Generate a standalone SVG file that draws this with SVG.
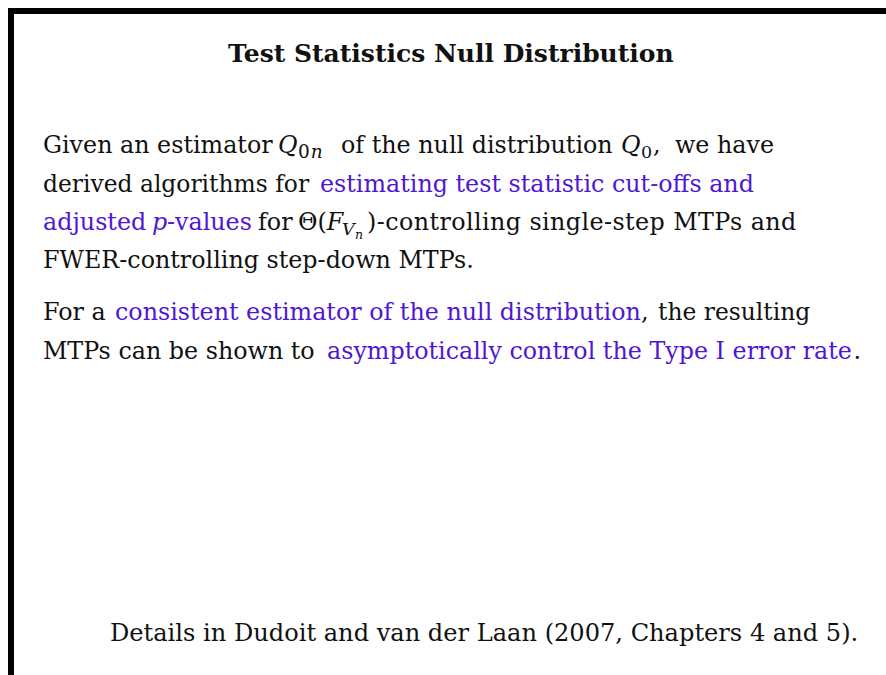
<svg xmlns="http://www.w3.org/2000/svg" width="886" height="675" viewBox="0 0 886 675" font-family="'DejaVu Serif', 'Liberation Serif', serif">
  <style>
    text { font-family: "DejaVu Serif", "Liberation Serif", serif; }
    .t { font-size: 23.8px; fill: #111; }
    .hl { fill: #4f17d3; }
    .it { font-style: italic; }
    .sub { font-size: 17.5px; }
    .subsub { font-size: 12.5px; }
    .title { font-size: 25px; font-weight: bold; fill: #111; }
  </style>

  <!-- slide background and frame -->
  <rect x="0" y="0" width="886" height="675" fill="#ffffff"/>
  <g id="frame" fill="#000000">
    <rect x="8" y="8" width="878" height="6"/>
    <rect x="8" y="8" width="6" height="667"/>
  </g>

  <!-- heading -->
  <g id="title">
    <text class="title" x="228" y="62">Test Statistics Null Distribution</text>
  </g>

  <!-- first paragraph -->
  <g id="para1">
    <text class="t" x="43" y="153">Given an estimator</text>
    <text class="t it" x="278" y="153">Q</text>
    <text class="t sub" x="298" y="157.5" style="font-size:18.5px;letter-spacing:1px">0<tspan class="it">n</tspan></text>
    <text class="t" x="341" y="153">of the null distribution</text>
    <text class="t it" x="621" y="153">Q</text>
    <text class="t sub" x="641" y="157.5">0</text>
    <text class="t" x="653" y="153">,</text>
    <text class="t" x="675" y="153">we have</text>

    <text class="t" x="43" y="191.5" style="font-size:23.4px">derived algorithms for</text>
    <text class="t hl" x="320" y="191.5">estimating test statistic cut-offs and</text>

    <text class="t hl" x="43" y="230">adjusted</text>
    <text class="t hl it" x="152" y="230">p</text>
    <text class="t hl" x="167" y="230">-values</text>
    <text class="t" x="258" y="230">for</text>
    <text class="t" x="298" y="230">Θ(<tspan class="it">F</tspan></text>
    <text class="t sub it" x="342" y="235">V</text>
    <text class="t subsub it" x="355" y="239">n</text>
    <text class="t" x="367" y="230" style="letter-spacing:0.42px">)-controlling single-step MTPs and</text>

    <text class="t" x="43" y="268">FWER-controlling step-down MTPs.</text>
  </g>

  <!-- second paragraph -->
  <g id="para2">
    <text class="t" x="43" y="320">For a</text>
    <text class="t hl" x="115" y="320">consistent estimator of the null distribution</text>
    <text class="t" x="641" y="320">,</text>
    <text class="t" x="658" y="320" style="font-size:23.4px">the resulting</text>

    <text class="t" x="43" y="359">MTPs can be shown to</text>
    <text class="t hl" x="327" y="359">asymptotically control the Type I error rate</text>
    <text class="t" x="853.5" y="359">.</text>
  </g>

  <!-- reference line -->
  <g id="footer">
    <text class="t" x="110" y="641" style="font-size:24.1px">Details in Dudoit and van der Laan (2007, Chapters 4 and 5).</text>
  </g>
</svg>
